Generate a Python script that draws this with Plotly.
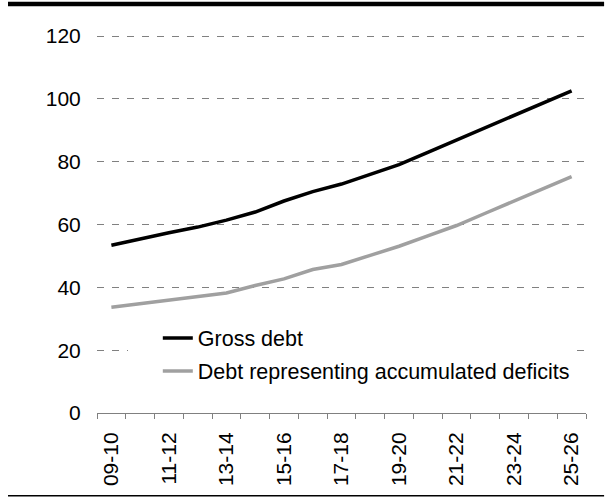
import plotly.graph_objects as go

years = ["09-10", "10-11", "11-12", "12-13", "13-14", "14-15", "15-16", "16-17", "17-18",
         "18-19", "19-20", "20-21", "21-22", "22-23", "23-24", "24-25", "25-26"]
gross_debt = [53.4, 55.5, 57.4, 59.2, 61.4, 64.0, 67.5, 70.5, 72.9,
              76.0, 79.1, 83.0, 86.9, 90.8, 94.8, 98.7, 102.6]
deficit_debt = [33.7, 34.8, 35.9, 37.0, 38.2, 40.6, 42.7, 45.7, 47.3,
                50.2, 53.1, 56.4, 59.7, 63.6, 67.5, 71.3, 75.3]
yticks = [0, 20, 40, 60, 80, 100, 120]
# label only every second year
xlabels = [y if i % 2 == 0 else "" for i, y in enumerate(years)]

font = "Liberation Sans, Arial, sans-serif"

fig = go.Figure()
fig.add_trace(go.Scatter(x=years, y=gross_debt, mode="lines", name="Gross debt",
                         line=dict(color="#000000", width=3.5), legendgroup="a"))
fig.add_trace(go.Scatter(x=years, y=deficit_debt, mode="lines",
                         name="Debt representing accumulated deficits",
                         line=dict(color="#a0a0a0", width=3.5), legendgroup="b"))

fig.update_layout(
    width=612, height=501,
    margin=dict(l=97, r=26, t=33, b=88),
    paper_bgcolor="white", plot_bgcolor="white",
    font=dict(family=font, size=21, color="black"),
    showlegend=True,
    legend=dict(x=0.063, y=0.251, xanchor="left", yanchor="top", indentation=30,
                bgcolor="white", tracegroupgap=2, font=dict(size=21.5)),
    xaxis=dict(type="category", tickvals=years, ticktext=xlabels,
               tickangle=-90, tickson="boundaries", ticks="outside", ticklen=5,
               tickcolor="#808080", showline=True, linecolor="#808080", linewidth=1,
               showgrid=False, ticklabelstandoff=10, range=[-0.5, len(years) - 0.5]),
    yaxis=dict(range=[0, 121], tickvals=yticks, showgrid=True, gridcolor="#808080",
               gridwidth=1, griddash="7px,8px", ticks="outside", ticklen=11,
               tickcolor="rgba(0,0,0,0)", zeroline=False, showline=False),
    shapes=[
        dict(type="line", xref="paper", yref="paper", x0=-0.182, x1=1.037,
             y0=1.076, y1=1.076, line=dict(color="black", width=4.5)),
        dict(type="line", xref="paper", yref="paper", x0=-0.182, x1=1.037,
             y0=-0.218, y1=-0.218, line=dict(color="black", width=1.5)),
    ],
)

fig.write_html("out.html", config={"displayModeBar": False},
               post_script="document.body.style.margin='0px';")
